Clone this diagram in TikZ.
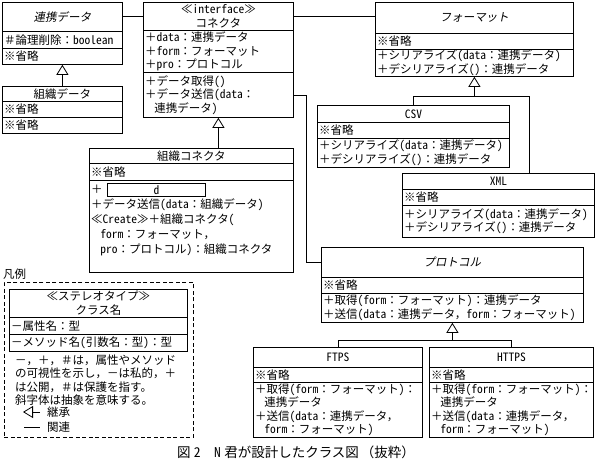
\documentclass[tikz,border=0pt]{standalone}
\usepackage{fontspec}
\setmainfont{Noto Sans CJK JP}
\newfontfamily\slantjp[FakeSlant=0.2]{Noto Sans CJK JP}
\newfontfamily\hwfont[RawFeature=+hwid]{Noto Sans CJK JP}
\newcommand\hw[1]{{\hwfont #1}}
\usetikzlibrary{arrows.meta}
\newcommand\jbody{\fontsize{11.5}{13.5}\selectfont}
\tikzset{
  cell/.style={draw, line width=0.8pt, anchor=north west, inner sep=0pt},
  ltxt/.style={anchor=west, align=left, inner sep=0pt, font=\jbody},
  ctxt/.style={anchor=center, align=center, inner sep=0pt, font=\jbody},
  itxt/.style={anchor=center, align=center, inner sep=0pt, font=\slantjp\jbody},
  inh/.style={line width=0.8pt, -{Triangle[open, length=10pt, width=12pt, line width=0.8pt]}},
  assoc/.style={line width=0.8pt},
}
\begin{document}
\begin{tikzpicture}[x=1pt, y=-1pt]
\fill[white] (0,0) rectangle (596,460);
\useasboundingbox (0,0) rectangle (596,460);

% ---- 連携データ
\node[cell, minimum width=120pt, minimum height=29pt] (rh) at (2,2) {};
\node[itxt] (rht) at (rh.center) {連携データ};
\node[cell, minimum width=120pt, minimum height=17pt] (ra) at (2,31) {};
\node[ltxt] (rat) at ([xshift=2pt]ra.west) {＃論理削除：\hw{boolean}};
\node[cell, minimum width=120pt, minimum height=16pt] (rm) at (2,48) {};
\node[ltxt] (rmt) at ([xshift=2pt]rm.west) {※省略};

% ---- 組織データ
\node[cell, minimum width=120pt, minimum height=15pt] (sh) at (2,86) {};
\node[ctxt] (sht) at (sh.center) {組織データ};
\node[cell, minimum width=120pt, minimum height=16pt] (sa) at (2,101) {};
\node[ltxt] (sat) at ([xshift=2pt]sa.west) {※省略};
\node[cell, minimum width=120pt, minimum height=16pt] (sm) at (2,117) {};
\node[ltxt] (smt) at ([xshift=2pt]sm.west) {※省略};

% ---- コネクタ
\node[cell, minimum width=150pt, minimum height=28pt] (kh) at (143,2) {};
\node[ctxt] (kht) at (kh.center) {≪\hw{interface}≫\\コネクタ};
\node[cell, minimum width=150pt, minimum height=42pt] (ka) at (143,30) {};
\node[ltxt] (kat) at ([xshift=2pt]ka.west) {＋\hw{data}：連携データ\\＋\hw{form}：フォーマット\\＋\hw{pro}：プロトコル};
\node[cell, minimum width=150pt, minimum height=45pt] (km) at (143,72) {};
\node[ltxt] (kmt) at ([xshift=2pt]km.west) {＋データ取得\hw{()}\\＋データ送信\hw{(data}：\\\hspace*{0.8em}連携データ\hw{)}};

% ---- フォーマット
\node[cell, minimum width=198pt, minimum height=31pt] (fh) at (375,2) {};
\node[itxt] (fht) at (fh.center) {フォーマット};
\node[cell, minimum width=198pt, minimum height=16pt] (fa) at (375,33) {};
\node[ltxt] (fat) at ([xshift=2pt]fa.west) {※省略};
\node[cell, minimum width=198pt, minimum height=27pt] (fm) at (375,49) {};
\node[ltxt] (fmt) at ([xshift=2pt]fm.west) {＋シリアライズ\hw{(data}：連携データ\hw{)}\\＋デシリアライズ\hw{()}：連携データ};

% ---- CSV
\node[cell, minimum width=192pt, minimum height=17pt] (ch) at (317,105) {};
\node[ctxt] (cht) at (ch.center) {\hw{CSV}};
\node[cell, minimum width=192pt, minimum height=16pt] (ca) at (317,122) {};
\node[ltxt] (cat) at ([xshift=2pt]ca.west) {※省略};
\node[cell, minimum width=192pt, minimum height=29pt] (cm) at (317,138) {};
\node[ltxt] (cmt) at ([xshift=2pt]cm.west) {＋シリアライズ\hw{(data}：連携データ\hw{)}\\＋デシリアライズ\hw{()}：連携データ};

% ---- XML
\node[cell, minimum width=192pt, minimum height=16pt] (xh) at (402,173) {};
\node[ctxt] (xht) at (xh.center) {\hw{XML}};
\node[cell, minimum width=192pt, minimum height=16pt] (xa) at (402,189) {};
\node[ltxt] (xat) at ([xshift=2pt]xa.west) {※省略};
\node[cell, minimum width=192pt, minimum height=32pt] (xm) at (402,205) {};
\node[ltxt] (xmt) at ([xshift=2pt]xm.west) {＋シリアライズ\hw{(data}：連携データ\hw{)}\\＋デシリアライズ\hw{()}：連携データ};

% ---- 組織コネクタ
\node[cell, minimum width=204pt, minimum height=15pt] (gh) at (89,148) {};
\node[ctxt] (ght) at (gh.center) {組織コネクタ};
\node[cell, minimum width=204pt, minimum height=17pt] (ga) at (89,163) {};
\node[ltxt] (gat) at ([xshift=2pt]ga.west) {※省略};
\node[cell, minimum width=204pt, minimum height=92pt] (gm) at (89,180) {};
\node[ltxt, font=\fontsize{11.5}{15}\selectfont] (gmt) at ([xshift=2pt,yshift=6pt]gm.west)
  {＋\\＋データ送信\hw{(data}：組織データ\hw{)}\\≪\hw{Create}≫＋組織コネクタ\hw{(}\\\hspace*{0.8em}\hw{form}：フォーマット，\\\hspace*{0.8em}\hw{pro}：プロトコル\hw{)}：組織コネクタ};
\node[draw, line width=1.2pt, minimum width=98pt, minimum height=13pt, inner sep=0pt, anchor=west, font=\jbody] (dbox) at (107,190) {\hw{d}};

% ---- プロトコル
\node[cell, minimum width=262pt, minimum height=30pt] (ph) at (321,247) {};
\node[itxt] (pht) at (ph.center) {プロトコル};
\node[cell, minimum width=262pt, minimum height=16pt] (pa) at (321,277) {};
\node[ltxt] (pat) at ([xshift=2pt]pa.west) {※省略};
\node[cell, minimum width=262pt, minimum height=29pt] (pm) at (321,293) {};
\node[ltxt] (pmt) at ([xshift=2pt]pm.west) {＋取得\hw{(form}：フォーマット\hw{)}：連携データ\\＋送信\hw{(data}：連携データ，\hw{form}：フォーマット\hw{)}};

% ---- FTPS
\node[cell, minimum width=169pt, minimum height=20pt] (th) at (253,347) {};
\node[ctxt] (tht) at (th.center) {\hw{FTPS}};
\node[cell, minimum width=169pt, minimum height=15pt] (ta) at (253,367) {};
\node[ltxt] (tat) at ([xshift=2pt]ta.west) {※省略};
\node[cell, minimum width=169pt, minimum height=55pt] (tm) at (253,382) {};
\node[ltxt] (tmt) at ([xshift=2pt]tm.west) {＋取得\hw{(form}：フォーマット\hw{)}：\\\hspace*{0.8em}連携データ\\＋送信\hw{(data}：連携データ，\\\hspace*{0.8em}\hw{form}：フォーマット\hw{)}};

% ---- HTTPS
\node[cell, minimum width=164pt, minimum height=20pt] (hh) at (429,347) {};
\node[ctxt] (hht) at (hh.center) {\hw{HTTPS}};
\node[cell, minimum width=164pt, minimum height=15pt] (ha) at (429,367) {};
\node[ltxt] (hat) at ([xshift=2pt]ha.west) {※省略};
\node[cell, minimum width=164pt, minimum height=55pt] (hm) at (429,382) {};
\node[ltxt] (hmt) at ([xshift=2pt]hm.west) {＋取得\hw{(form}：フォーマット\hw{)}：\\\hspace*{0.8em}連携データ\\＋送信\hw{(data}：連携データ，\\\hspace*{0.8em}\hw{form}：フォーマット\hw{)}};

% ---- connectors
\draw[assoc] (rh.east) -- (rh.east -| kh.west);
\draw[assoc] (kh.east) -- (kh.east -| fh.west);
\draw[assoc] (km.east) -- ++(13,0) |- (ph.west);
\draw[inh] (sh.north) -- (rm.south);
\draw[inh] (gh.north -| km.south) -- (km.south);
\path (fm.south) ++(0,20) coordinate (fj);
\draw[inh] (fj) -- (fm.south);
\draw[assoc] (ch.north) |- (fj);
\draw[assoc] ([xshift=30.5pt]xh.north) |- (fj);
\path (pm.south) ++(0,18) coordinate (pj);
\draw[inh] (pj) -- (pm.south);
\draw[assoc] (th.north) |- (pj);
\draw[assoc] (hh.north) |- (pj);

% ---- legend
\node[ltxt] (hanrei) at (3,274) {凡例};
\node[draw, line width=0.8pt, dash pattern=on 4pt off 2.5pt, anchor=north west, minimum width=189pt, minimum height=155pt, inner sep=0pt] (legend) at (4,282) {};
\node[cell, minimum width=178pt, minimum height=28pt] (lh) at (9,289) {};
\node[ctxt] (lht) at (lh.center) {≪ステレオタイプ≫\\クラス名};
\node[cell, minimum width=178pt, minimum height=17pt] (la) at (9,317) {};
\node[ltxt] (lat) at ([xshift=2pt]la.west) {－属性名：型};
\node[cell, minimum width=178pt, minimum height=17pt] (lm) at (9,334) {};
\node[ltxt] (lmt) at ([xshift=2pt]lm.west) {－メソッド名\hw{(}引数名：型\hw{)}：型};
\node[ltxt, font=\fontsize{11.5}{13.3}\selectfont] (lnote) at (15,380)
  {－，＋，＃は，属性やメソッド\\の可視性を示し，－は私的，＋\\は公開，＃は保護を指す。\\斜字体は抽象を意味する。};
\coordinate (lia) at (23,412);
\coordinate (lib) at (40,412);
\draw[inh] (lib) -- (lia);
\node[ltxt] (lit) at (47,412) {継承};
\coordinate (laa) at (24,427);
\coordinate (lab) at (40,427);
\draw[assoc] (laa) -- (lab);
\node[ltxt] (lrt) at (47,427) {関連};

% ---- caption
\node[inner sep=0pt, font=\fontsize{13.5}{15}\selectfont] (cap) at (296,452) {図\hspace{0.25em}\hw{2}\hspace{1em}\hw{N}\hspace{0.25em}君が設計したクラス図\hspace{0.15em}（抜粋）};
\end{tikzpicture}
\end{document}
